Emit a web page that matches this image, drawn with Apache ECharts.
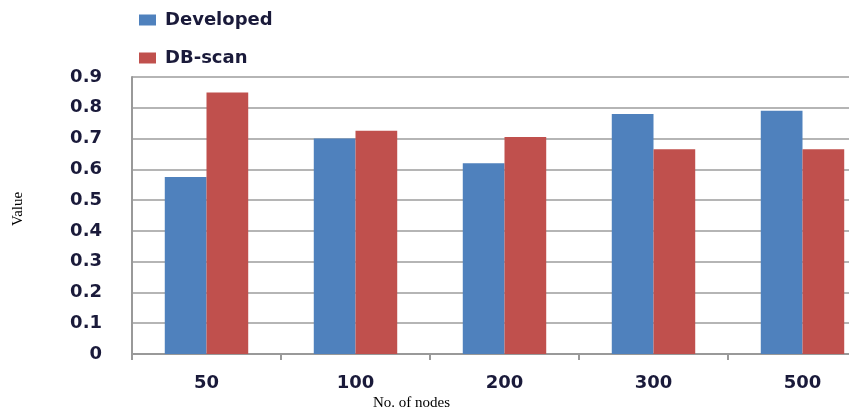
<!DOCTYPE html>
<html>
<head>
<meta charset="utf-8">
<script src="https://cdn.jsdelivr.net/npm/echarts@6/dist/echarts.min.js"></script>
<style>html,body{margin:0;padding:0;background:#fff;overflow:hidden;}#c{width:849px;height:414px;}</style>
</head>
<body>
<div id="c"></div>
<script>
var categories = ['50', '100', '200', '300', '500'];
var developed = [0.575, 0.70, 0.62, 0.78, 0.79];
var dbscan = [0.85, 0.725, 0.705, 0.665, 0.665];
var yTicks = { min: 0, max: 0.9, interval: 0.1 };

var textColor = '#1a1a3a';
var chart = echarts.init(document.getElementById('c'));
chart.setOption({
  animation: false,
  backgroundColor: '#fff',
  legend: {
    orient: 'vertical',
    left: 134,
    top: 6,
    itemWidth: 17,
    itemHeight: 11,
    itemGap: 20,
    icon: 'rect',
    textStyle: { fontFamily: 'DejaVu Sans', fontSize: 18, fontWeight: 'bold', color: textColor, padding: [0,0,0,4] },
    data: ['Developed', 'DB-scan']
  },
  grid: { left: 132, width: 745, top: 77, height: 277, containLabel: false, outerBoundsMode: 'none' },
  xAxis: {
    type: 'category',
    data: categories,
    axisLine: { lineStyle: { color: '#999', width: 2 } },
    axisTick: { show: true, length: 6, lineStyle: { color: '#999', width: 2 } },
    axisLabel: { margin: 20, fontFamily: 'DejaVu Sans', fontSize: 18, fontWeight: 'bold', color: textColor }
  },
  yAxis: {
    type: 'value',
    min: yTicks.min, max: yTicks.max, interval: yTicks.interval,
    axisLine: { show: true, lineStyle: { color: '#999', width: 2 } },
    axisTick: { show: false },
    splitLine: { lineStyle: { color: '#9c9c9c', width: 1.5 } },
    axisLabel: { margin: 30, fontFamily: 'DejaVu Sans', fontSize: 18, fontWeight: 'bold', color: textColor,
      formatter: function (v) { return v === 0 ? '0' : v.toFixed(1); } }
  },
  graphic: [
    { type: 'text', left: 373, top: 396, style: { text: 'No. of nodes', font: '15px "Liberation Serif"', fill: '#000' } },
    { type: 'text', x: 11, y: 226, rotation: Math.PI / 2, style: { text: 'Value', font: '15px "Liberation Serif"', fill: '#000' } }
  ],
  series: [
    { name: 'Developed', type: 'bar', data: developed, barGap: '0%', barCategoryGap: '44%', itemStyle: { color: '#4F81BD' } },
    { name: 'DB-scan', type: 'bar', data: dbscan, itemStyle: { color: '#C0504D' } }
  ]
});
</script>
</body>
</html>
